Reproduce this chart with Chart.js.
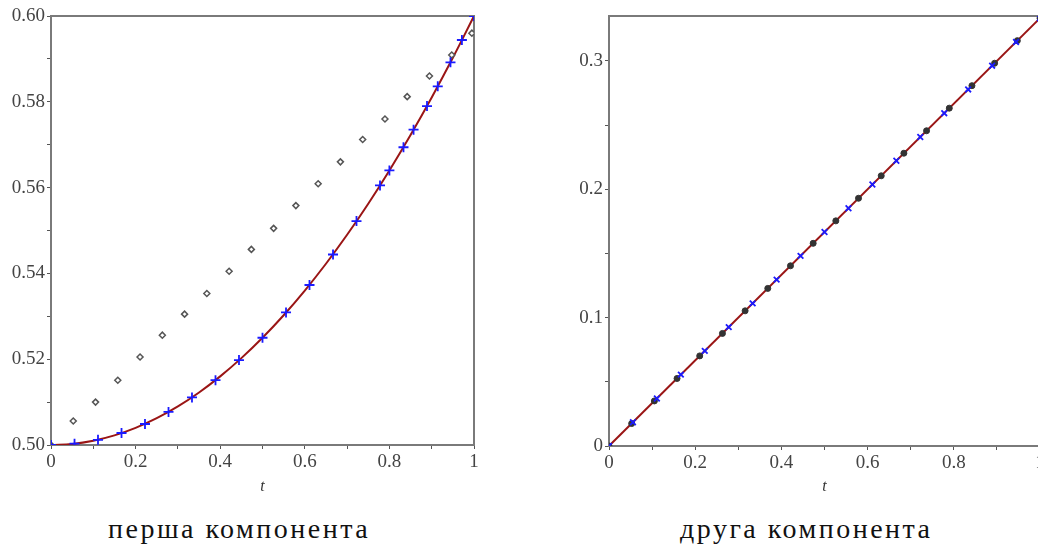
<!DOCTYPE html>
<html>
<head>
<meta charset="utf-8">
<script src="https://cdn.jsdelivr.net/npm/chart.js@4.4.0/dist/chart.umd.min.js"></script>
<style>
  body { margin: 0; width: 1038px; height: 544px; overflow: hidden; background: #fff; position: relative; }
  .box { position: absolute; top: 0; }
  .cap { position: absolute; top: 513px; font-family: "Liberation Serif", serif; font-size: 28px; letter-spacing: 2.5px; color: #111; white-space: nowrap; }
</style>
</head>
<body>
<div class="box" style="left:0px"><canvas id="left" width="500" height="500"></canvas></div>
<div class="box" style="left:558px"><canvas id="right" width="500" height="500"></canvas></div>
<div class="cap" style="left:108px">перша компонента</div>
<div class="cap" style="left:680px">друга компонента</div>
<script>
// first component: exact curve, numerical points (+), and the coarse approximation (diamonds)
const curveT1 = [0, 0.05, 0.1, 0.15, 0.2, 0.25, 0.3, 0.35, 0.4, 0.45, 0.5, 0.55, 0.6, 0.65, 0.7, 0.75, 0.8, 0.85, 0.9, 0.95, 1];
const curveY1 = [0.5, 0.50025, 0.501, 0.50225, 0.504, 0.50625, 0.509, 0.51225, 0.516, 0.52025, 0.525, 0.53025, 0.536, 0.54225, 0.549, 0.55625, 0.564, 0.57225, 0.581, 0.59025, 0.6];
const crossT1 = [0, 0.0556, 0.1111, 0.1667, 0.2222, 0.2778, 0.3333, 0.3889, 0.4444, 0.5, 0.5556, 0.6111, 0.6667, 0.7222, 0.7778, 0.8, 0.8333, 0.8571, 0.8889, 0.9143, 0.9444, 0.9714, 1];
const crossY1 = [0.5, 0.5003, 0.5012, 0.5028, 0.5049, 0.5077, 0.5111, 0.5151, 0.5198, 0.525, 0.5309, 0.5373, 0.5444, 0.5522, 0.5605, 0.564, 0.5694, 0.5735, 0.579, 0.5836, 0.5892, 0.5944, 0.6];
const diamT1 = [0, 0.0526, 0.1053, 0.1579, 0.2105, 0.2632, 0.3158, 0.3684, 0.4211, 0.4737, 0.5263, 0.5789, 0.6316, 0.6842, 0.7368, 0.7895, 0.8421, 0.8947, 0.9474, 0.995];
const diamY1 = [0.5, 0.5056, 0.51, 0.5151, 0.5205, 0.5256, 0.5305, 0.5353, 0.5405, 0.5456, 0.5505, 0.5558, 0.5609, 0.566, 0.5712, 0.576, 0.5812, 0.586, 0.5909, 0.596];

// second component
const curveT2 = [0, 1];
const curveY2 = [0, 0.3333];
const crossT2 = [0, 0.0556, 0.1111, 0.1667, 0.2222, 0.2778, 0.3333, 0.3889, 0.4444, 0.5, 0.5556, 0.6111, 0.6667, 0.7222, 0.7778, 0.8333, 0.8889, 0.9444, 1];
const crossY2 = [0, 0.0185, 0.037, 0.0556, 0.0741, 0.0926, 0.1111, 0.1296, 0.1481, 0.1667, 0.1852, 0.2037, 0.2222, 0.2407, 0.2593, 0.2778, 0.2963, 0.3148, 0.3333];
const dotT2 = [0, 0.0526, 0.1053, 0.1579, 0.2105, 0.2632, 0.3158, 0.3684, 0.4211, 0.4737, 0.5263, 0.5789, 0.6316, 0.6842, 0.7368, 0.7895, 0.8421, 0.8947, 0.9474, 1];
const dotY2 = [0, 0.0175, 0.0351, 0.0526, 0.0702, 0.0877, 0.1053, 0.1228, 0.1404, 0.1579, 0.1754, 0.193, 0.2105, 0.2281, 0.2456, 0.2632, 0.2807, 0.2982, 0.3158, 0.3333];

const xTicks = ['0', '0.2', '0.4', '0.6', '0.8', '1'];

function pts(xs, ys) {
    return xs.map((x, i) => ({ x: x, y: ys[i] }));
}

const frame = {
    id: 'frame',
    beforeDatasetsDraw(chart) {
        const a = chart.chartArea;
        const ctx = chart.ctx;
        ctx.save();
        ctx.strokeStyle = '#7a7a7a';
        ctx.lineWidth = 2;
        ctx.strokeRect(a.left, a.top, a.right - a.left, a.bottom - a.top);
        ctx.restore();
    }
};

const tickFont = { family: "'Liberation Serif', serif", size: 19 };
const gridOpts = { drawOnChartArea: false, drawTicks: true, tickLength: 4, color: '#555', lineWidth: 1 };

function xAxis(h) {
    return {
        type: 'linear', min: 0, max: 1,
        ticks: {
            stepSize: 0.1, color: '#444', font: tickFont, padding: 2, maxRotation: 0, autoSkip: false,
            callback: (v) => {
                const k = Math.round(v * 10);
                return k % 2 === 0 ? xTicks[k / 2] : '';
            }
        },
        grid: gridOpts,
        border: { display: false },
        title: { display: true, text: 't', color: '#333', font: { family: "'Liberation Serif', serif", size: 16, style: 'italic' }, padding: { top: 2, bottom: 4 } },
        afterFit: (s) => { s.height = h; }
    };
}

new Chart(document.getElementById('left'), {
    type: 'scatter',
    data: {
        datasets: [{
            data: pts(crossT1, crossY1),
            pointStyle: 'cross', pointRadius: 5, borderColor: '#1a1aff', borderWidth: 1.8
        }, {
            data: pts(diamT1, diamY1),
            pointStyle: 'rectRot', pointRadius: 3, borderColor: '#555', backgroundColor: '#fff', borderWidth: 1.5
        }, {
            type: 'line',
            data: pts(curveT1, curveY1),
            borderColor: '#9a1515', borderWidth: 2, pointRadius: 0, tension: 0.4, fill: false
        }]
    },
    options: {
        responsive: false, animation: false, devicePixelRatio: 1,
        layout: { padding: { left: 1, right: 26, top: 16, bottom: 0 } },
        plugins: { legend: { display: false }, tooltip: { enabled: false } },
        scales: {
            x: xAxis(55),
            y: {
                type: 'linear', min: 0.5, max: 0.6,
                ticks: {
                    stepSize: 0.01, color: '#444', font: tickFont, padding: 2,
                    callback: (v) => Math.round(v * 100) % 2 === 0 ? v.toFixed(2) : ''
                },
                grid: gridOpts,
                border: { display: false },
                afterFit: (s) => { s.width = 50; }
            }
        }
    },
    plugins: [frame]
});

new Chart(document.getElementById('right'), {
    type: 'scatter',
    data: {
        datasets: [{
            data: pts(crossT2, crossY2),
            pointStyle: 'crossRot', pointRadius: 4, borderColor: '#1a1aff', borderWidth: 1.8
        }, {
            data: pts(dotT2, dotY2),
            pointStyle: 'circle', pointRadius: 3, borderColor: '#333', backgroundColor: '#333', borderWidth: 1
        }, {
            type: 'line',
            data: pts(curveT2, curveY2),
            borderColor: '#9a1515', borderWidth: 2, pointRadius: 0, fill: false
        }]
    },
    options: {
        responsive: false, animation: false, devicePixelRatio: 1,
        layout: { padding: { left: 1, right: 18, top: 16, bottom: 0 } },
        plugins: { legend: { display: false }, tooltip: { enabled: false } },
        scales: {
            x: xAxis(54),
            y: {
                type: 'linear', min: 0, max: 0.335,
                afterBuildTicks: (s) => { s.ticks = s.ticks.filter(t => Math.abs(t.value / 0.05 - Math.round(t.value / 0.05)) < 1e-6); },
                ticks: {
                    stepSize: 0.05, color: '#444', font: tickFont, padding: 2,
                    callback: (v) => {
                        const k = Math.round(v * 20);
                        return k % 2 === 0 ? String(k / 20) : '';
                    }
                },
                grid: gridOpts,
                border: { display: false },
                afterFit: (s) => { s.width = 50; }
            }
        }
    },
    plugins: [frame]
});
</script>
</body>
</html>
